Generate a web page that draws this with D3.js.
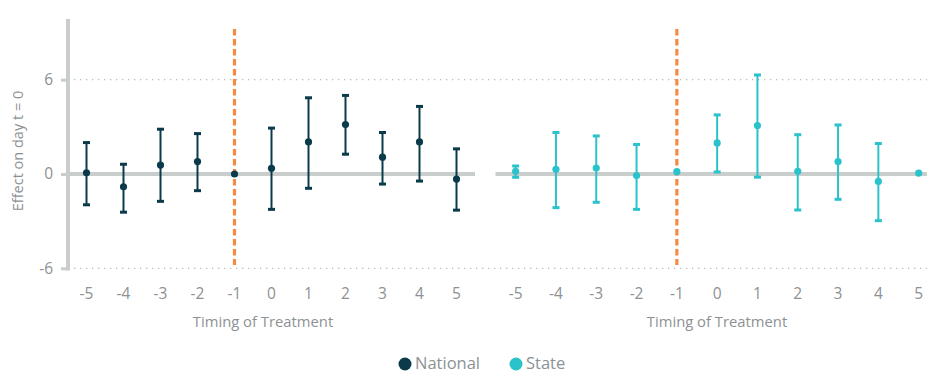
<!DOCTYPE html>
<html>
<head>
<meta charset="utf-8">
<script src="https://cdn.jsdelivr.net/npm/d3@7/dist/d3.min.js"></script>
<style>
  html, body { margin: 0; padding: 0; background: #fff; }
  svg { display: block; font-family: "Open Sans", Lato, sans-serif; }
</style>
</head>
<body>
<svg id="chart" width="927" height="373"></svg>
<script>
// Event-study estimates by timing of treatment
const periods = [-5, -4, -3, -2, -1, 0, 1, 2, 3, 4, 5];

const nationalEst = [0.08, -0.81, 0.57, 0.79, 0, 0.36, 2.04, 3.15, 1.07, 2.04, -0.32];
const nationalLow = [-1.96, -2.43, -1.74, -1.06, 0, -2.25, -0.91, 1.26, -0.64, -0.45, -2.3];
const nationalHigh = [2.0, 0.62, 2.85, 2.57, 0, 2.92, 4.85, 5.0, 2.64, 4.3, 1.6];

const stateEst = [0.17, 0.3, 0.38, -0.1, 0.15, 1.98, 3.08, 0.17, 0.79, -0.47, 0.06];
const stateLow = [-0.21, -2.14, -1.8, -2.25, 0.15, 0.13, -0.2, -2.29, -1.61, -2.97, 0.06];
const stateHigh = [0.51, 2.64, 2.42, 1.88, 0.15, 3.76, 6.3, 2.5, 3.12, 1.94, 0.06];

const yTicks = [-6, 0, 6];
const treatmentPeriod = -1;
const seriesNames = ["National", "State"];

const colors = { National: "#0b3b4b", State: "#2bc3cb" };
const axisGray = "#c9cdcc";
const textGray = "#8d9194";
const orange = "#f58a42";
const font = "'Open Sans', Lato, sans-serif";

const svg = d3.select("#chart");

const y = d3.scaleLinear().domain([-6, 6]).range([268.3, 79.7]);

const panels = [
  { name: "National", range: [68, 475], est: nationalEst, low: nationalLow, high: nationalHigh, titleX: 263 },
  { name: "State", range: [495.5, 938.8], est: stateEst, low: stateLow, high: stateHigh, titleX: 717 }
];

// dotted gridlines at the outer ticks, across both panels
svg.append("g").selectAll("line")
  .data(yTicks.filter(d => d !== 0))
  .join("line")
  .attr("x1", 74).attr("x2", 927)
  .attr("y1", d => y(d)).attr("y2", d => y(d))
  .attr("stroke", "#b8bcbc").attr("stroke-width", 1.3)
  .attr("stroke-dasharray", "1.3,4.7");

// y axis
const yAxis = d3.axisLeft(y).tickValues(yTicks).tickSize(7).tickPadding(8).tickFormat(d => String(d));
const gy = svg.append("g").attr("transform", "translate(68,0)").call(yAxis);
gy.select(".domain").remove();
gy.selectAll(".tick line").attr("stroke", axisGray).attr("stroke-width", 3);
gy.selectAll(".tick text").attr("fill", textGray).attr("font-size", 15.5)
  .attr("font-family", font);
svg.append("line")
  .attr("x1", 68).attr("x2", 68).attr("y1", 19).attr("y2", 270.5)
  .attr("stroke", axisGray).attr("stroke-width", 4);

svg.append("text")
  .attr("transform", "translate(23,151) rotate(-90)")
  .attr("text-anchor", "middle")
  .attr("fill", textGray).attr("font-size", 14.5)
  .text("Effect on day t = 0");

panels.forEach(p => {
  const x = d3.scaleBand().domain(periods).range(p.range);
  const cx = d => x(d) + x.bandwidth() / 2;
  const g = svg.append("g");
  const col = colors[p.name];

  // zero line
  g.append("line")
    .attr("x1", p.range[0]).attr("x2", Math.min(p.range[1], 927))
    .attr("y1", y(0)).attr("y2", y(0))
    .attr("stroke", axisGray).attr("stroke-width", 4);

  // x axis labels
  const xAxis = d3.axisBottom(x).tickSize(0).tickPadding(0).tickFormat(d => String(d));
  const gx = g.append("g").attr("transform", "translate(0,288)").call(xAxis);
  gx.select(".domain").remove();
  gx.selectAll(".tick text").attr("fill", textGray).attr("font-size", 15.5)
    .attr("font-family", font);

  g.append("text")
    .attr("x", p.titleX).attr("y", 327)
    .attr("text-anchor", "middle")
    .attr("fill", textGray).attr("font-size", 14.8)
    .text("Timing of Treatment");

  // treatment marker
  g.append("line")
    .attr("x1", cx(treatmentPeriod)).attr("x2", cx(treatmentPeriod))
    .attr("y1", 29).attr("y2", 265)
    .attr("stroke", orange).attr("stroke-width", 3.2)
    .attr("stroke-dasharray", "6.5,3.5");

  const rows = periods.map((t, i) => ({ t, est: p.est[i], low: p.low[i], high: p.high[i] }));
  const bars = rows.filter(d => d.high > d.low);

  g.append("g").selectAll("line").data(bars).join("line")
    .attr("x1", d => cx(d.t)).attr("x2", d => cx(d.t))
    .attr("y1", d => y(d.low)).attr("y2", d => y(d.high))
    .attr("stroke", col).attr("stroke-width", 2);

  const caps = bars.flatMap(d => [d.low, d.high].map(v => ({ t: d.t, v })));
  g.append("g").selectAll("rect").data(caps).join("rect")
    .attr("x", d => cx(d.t) - 3.5).attr("y", d => y(d.v) - 1.5)
    .attr("width", 7).attr("height", 3)
    .attr("fill", col);

  g.append("g").selectAll("circle").data(rows).join("circle")
    .attr("cx", d => cx(d.t)).attr("cy", d => y(d.est))
    .attr("r", 3.6).attr("fill", col);
});

// legend
const legendPos = [{ name: "National", x: 405 }, { name: "State", x: 516 }];
const lg = svg.append("g").selectAll("g").data(legendPos).join("g")
  .attr("transform", d => `translate(${d.x},364)`);
lg.append("circle").attr("r", 6.5).attr("fill", d => colors[d.name]);
lg.append("text").attr("x", 10).attr("y", 4.5)
  .attr("fill", textGray).attr("font-size", 16.5)
  .text(d => d.name);
</script>
</body>
</html>
